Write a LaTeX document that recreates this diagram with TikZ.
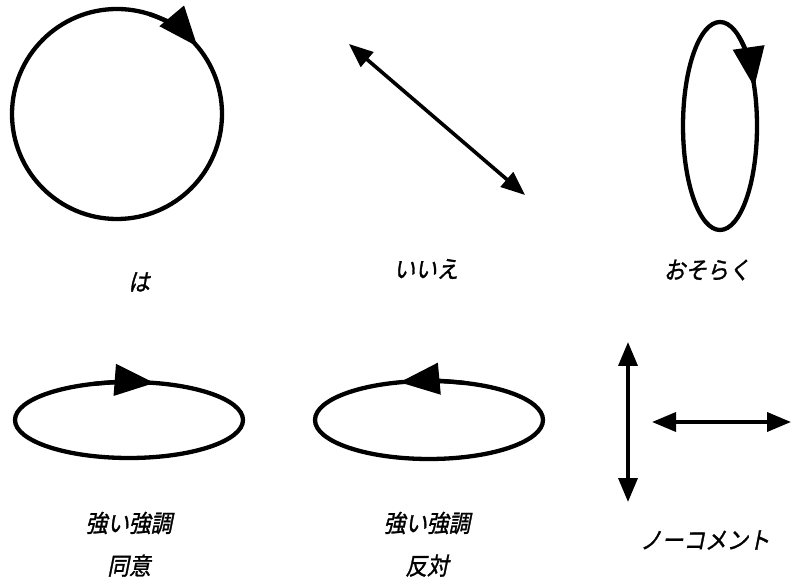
\documentclass[tikz,border=0pt]{standalone}
\usepackage{fontspec}
\newfontfamily\jpfont[FakeSlant=0.2,FakeStretch=0.9,FakeBold=1.2]{Noto Sans CJK JP}
\usetikzlibrary{arrows.meta,positioning,calc}

\begin{document}
\begin{tikzpicture}[
  x=1pt,y=1pt,
  font=\jpfont\fontsize{24}{27}\selectfont,
  >=Latex,
  loopline/.style={line width=4.3pt},
  looptip/.style={line width=4.3pt,-{Triangle[length=40pt,width=31pt]}},
  dbl/.style={line width=3.6pt,{Triangle[length=24pt,width=19pt]}-{Triangle[length=24pt,width=19pt]}},
  lbl/.style={inner sep=0pt}
]
\useasboundingbox (0,0) rectangle (791,586);

\coordinate (yes) at (117,472);
\coordinate (nofrom) at (349,542);
\coordinate (noto) at (525,391);
\coordinate (maybe) at (720,460);
\coordinate (agree) at (129,166);
\coordinate (oppose) at (429,166);
\coordinate (vtop) at (628,244);
\coordinate (vbot) at (628,84);
\coordinate (hleft) at (652,164);
\coordinate (hright) at (791,164);

\draw[loopline] (yes) circle[radius=105pt];
\draw[looptip] (yes) ++(72:105pt) arc[start angle=72,end angle=40,radius=105pt];

\draw[dbl] (nofrom) -- (noto);

\draw[loopline] (maybe) ellipse[x radius=37pt,y radius=104pt];
\draw[looptip] (maybe) ++(60:37pt and 104pt) arc[start angle=60,end angle=22,x radius=37pt,y radius=104pt];

\draw[loopline] (agree) ellipse[x radius=114pt,y radius=38pt];
\draw[looptip] (agree) ++(108:114pt and 38pt) arc[start angle=108,end angle=77,x radius=114pt,y radius=38pt];

\draw[loopline] (oppose) ellipse[x radius=114pt,y radius=39pt];
\draw[looptip] (oppose) ++(72:114pt and 39pt) arc[start angle=72,end angle=105,x radius=114pt,y radius=39pt];

\draw[dbl] (vtop) -- (vbot);
\draw[dbl] (hleft) -- (hright);

\node[lbl] (yeslbl) at (139,304) {は};
\node[lbl] (nolbl) at (426,317) {いいえ};
\node[lbl] (maybelbl) at (707,316) {おそらく};
\node[lbl] (agreelbl) at (129,63) {強い強調};
\node[lbl,below=20pt of agreelbl] (agreesub) {同意};
\node[lbl] (opposelbl) at (427,63) {強い強調};
\node[lbl,below=20pt of opposelbl] (opposesub) {反対};
\node[lbl] (nocomment) at (705,46) {ノーコメント};
\end{tikzpicture}
\end{document}
